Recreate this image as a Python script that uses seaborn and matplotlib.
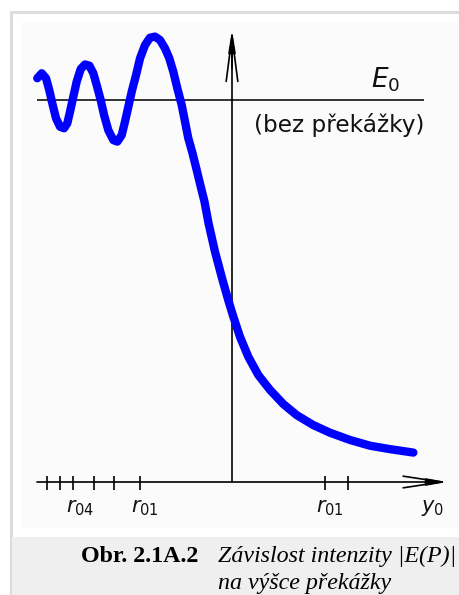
import matplotlib
matplotlib.use("Agg")
import matplotlib.pyplot as plt
from matplotlib.patches import Rectangle
import seaborn as sns
import pandas as pd

# ---------------- data ----------------
# horizontal position: units of r01 (distance from the obstacle edge / vertical axis)
curve_x = [-2.094, -2.046, -2.000, -1.965, -1.928, -1.892, -1.849, -1.806, -1.771,
           -1.742, -1.706, -1.670, -1.627, -1.581, -1.534, -1.491, -1.455, -1.412,
           -1.376, -1.330, -1.276, -1.233, -1.186, -1.151, -1.115, -1.078, -1.032,
           -0.989, -0.935, -0.882, -0.828, -0.774, -0.720, -0.674, -0.631, -0.588,
           -0.541, -0.505, -0.470, -0.426, -0.383, -0.340, -0.296, -0.252, -0.183,
           -0.111, -0.040, 0.014, 0.086, 0.175, 0.283, 0.409, 0.552, 0.696,
           0.874, 1.054, 1.269, 1.484, 1.699, 1.950]
# |E(P)| relative to E0 (E0 = 1)
curve_y = [1.057, 1.070, 1.057, 1.026, 0.987, 0.952, 0.930, 0.926, 0.939,
           0.969, 1.009, 1.048, 1.081, 1.093, 1.090, 1.070, 1.039, 1.000,
           0.961, 0.921, 0.895, 0.891, 0.908, 0.943, 0.982, 1.022, 1.065,
           1.109, 1.144, 1.163, 1.166, 1.157, 1.135, 1.109, 1.074, 1.031,
           0.987, 0.943, 0.900, 0.862, 0.820, 0.777, 0.734, 0.677, 0.603,
           0.537, 0.476, 0.433, 0.380, 0.328, 0.280, 0.241, 0.204, 0.175,
           0.149, 0.129, 0.110, 0.095, 0.086, 0.077]

tick_positions = [-1.992, -1.849, -1.706, -1.484, -1.269, -0.989, 1.000, 1.247]
tick_label_pos = [-1.634, -0.935, 1.054]
tick_labels = [r"$r_{04}$", r"$r_{01}$", r"$r_{01}$"]
e0_level = 1.0
e0_label = r"$E_0$"
e0_note = "(bez překážky)"
x_axis_label = r"$y_0$"
caption_bold = "Obr. 2.1A.2"
caption_italic_1 = "Závislost intenzity |E(P)|"
caption_italic_2 = "na výšce překážky"

# ---------------- figure ----------------
W, H = 459, 595
sns.set_theme(style="white")
plt.rcParams["font.family"] = ["DejaVu Sans"]
plt.rcParams["mathtext.fontset"] = "dejavusans"

fig = plt.figure(figsize=(W / 100, H / 100), dpi=100, facecolor="white")

def fx(px):
    return px / W

def fy(py):
    return 1 - py / H

# background panels (figure pixel coords)
fig.patches.append(Rectangle((fx(10.5), fy(600)), fx(470) - fx(10.5), fy(11.5) - fy(600),
                             transform=fig.transFigure, facecolor="white",
                             edgecolor="#dcdcdc", lw=2.2, zorder=-3))
fig.patches.append(Rectangle((fx(21), fy(528)), fx(470) - fx(21), fy(22) - fy(528),
                             transform=fig.transFigure, facecolor="#fbfbfb",
                             edgecolor="none", zorder=-2))
fig.patches.append(Rectangle((fx(12), fy(600)), fx(470) - fx(12), fy(537) - fy(600),
                             transform=fig.transFigure, facecolor="#efefef",
                             edgecolor="none", zorder=-2))

# data axes mapped over the whole figure
SX, X0 = 93.0, 232.0
SY, Y0 = 382.0, 482.0
ax = fig.add_axes([0, 0, 1, 1])
ax.patch.set_alpha(0)

x_left = (37 - X0) / SX
x_right = (447 - X0) / SX
y_top = (Y0 - 30) / SY
e0_end = (424 - X0) / SX

# E0 reference line
ax.hlines(e0_level, x_left, e0_end, color="#111111", lw=1.2, zorder=2)

# horizontal axis with arrow
ax.annotate("", xy=(x_right, 0), xytext=(x_left, 0),
            arrowprops=dict(arrowstyle="->,head_length=2.3,head_width=0.35",
                            color="black", lw=1.2, shrinkA=0, shrinkB=0))
ax.annotate("", xy=(x_right, 0), xytext=(x_right - 0.2, 0),
            arrowprops=dict(arrowstyle="-|>,head_length=1.0,head_width=0.18",
                            color="black", lw=1.2, shrinkA=0, shrinkB=0))
# vertical axis with arrow
ax.annotate("", xy=(0, y_top), xytext=(0, 0),
            arrowprops=dict(arrowstyle="->,head_length=2.7,head_width=0.35",
                            color="black", lw=1.2, shrinkA=0, shrinkB=0))
ax.annotate("", xy=(0, y_top), xytext=(0, y_top - 0.1),
            arrowprops=dict(arrowstyle="-|>,head_length=1.1,head_width=0.18",
                            color="black", lw=1.2, shrinkA=0, shrinkB=0))

# ticks
ax.vlines(tick_positions, -8 / SY, 6 / SY, color="black", lw=1.2)

# curve
df = pd.DataFrame({"x": curve_x, "y": curve_y})
sns.lineplot(data=df, x="x", y="y", sort=False, estimator=None, color="#0000ff",
             lw=6.0, ax=ax, solid_capstyle="round", solid_joinstyle="round", zorder=3)
ax.axis("off")
ax.set_xlim(-X0 / SX, (W - X0) / SX)
ax.set_ylim((Y0 - H) / SY, Y0 / SY)

# labels
lab_y = (Y0 - 508) / SY
for xp, lab in zip(tick_label_pos, tick_labels):
    ax.text(xp, lab_y, lab, fontsize=15, ha="center", va="center", color="#111111")
ax.text((433 - X0) / SX, lab_y, x_axis_label, fontsize=15, ha="center", va="center",
        color="#111111")
ax.text((386 - X0) / SX, (Y0 - 80) / SY, e0_label, fontsize=19, ha="center", va="center",
        color="#111111")
ax.text((424 - X0) / SX, (Y0 - 125) / SY, e0_note, fontsize=16.7, ha="right", va="center",
        color="#111111")

# caption
fig.text(fx(81), fy(562), caption_bold, fontsize=17.3, fontweight="bold",
         family=["Liberation Serif"], ha="left", va="baseline", color="black")
fig.text(fx(218), fy(562), caption_italic_1, fontsize=17.3, style="italic",
         family=["Liberation Serif"], ha="left", va="baseline", color="black")
fig.text(fx(218), fy(589), caption_italic_2, fontsize=17.3, style="italic",
         family=["Liberation Serif"], ha="left", va="baseline", color="black")

fig.savefig("out.png", dpi=100, facecolor="white")
